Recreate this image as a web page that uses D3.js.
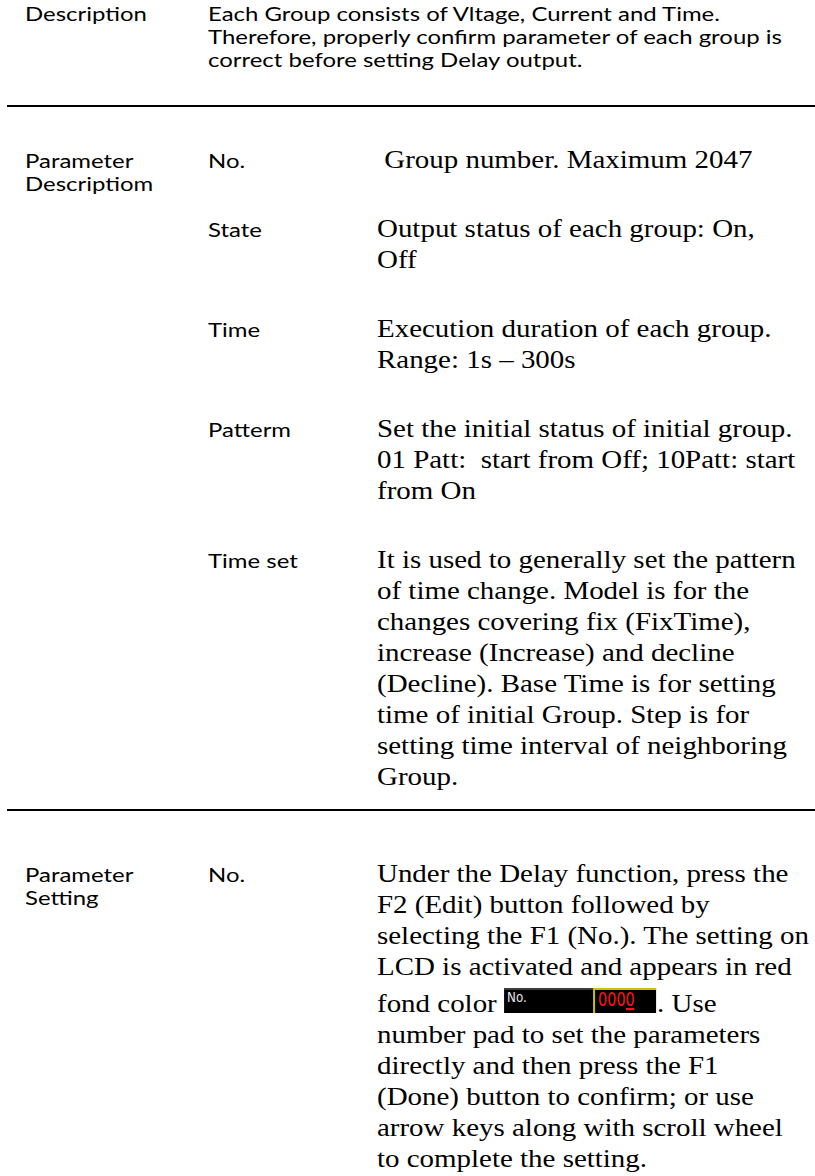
<!DOCTYPE html>
<html><head><meta charset="utf-8">
<script src="https://cdn.jsdelivr.net/npm/d3@7"></script>
<style>html,body{margin:0;padding:0;background:#fff;}svg{display:block;}</style>
</head><body>
<svg id="c" width="815" height="1176"></svg>
<script>
// ---------- content ----------
const descriptionLabel = ["Description"];
const descriptionLines = [
  "Each Group consists of Vltage, Current and Time.",
  "Therefore, properly confirm parameter of each group is",
  "correct before setting Delay output."
];
const paramDescLabel = ["Parameter", "Descriptiom"];
const paramNames = ["No.", "State", "Time", "Patterm", "Time set"];
const paramTexts = [
  [" Group number. Maximum 2047"],
  ["Output status of each group: On,", "Off"],
  ["Execution duration of each group.", "Range: 1s \u2013 300s"],
  ["Set the initial status of initial group.", "01 Patt:  start from Off; 10Patt: start", "from On"],
  ["It is used to generally set the pattern", "of time change. Model is for the",
   "changes covering fix (FixTime),", "increase (Increase) and decline",
   "(Decline). Base Time is for setting", "time of initial Group. Step is for",
   "setting time interval of neighboring", "Group."]
];
const settingLabel = ["Parameter", "Setting"];
const settingNames = ["No."];
const settingTexts = [[
  "Under the Delay function, press the", "F2 (Edit) button followed by",
  "selecting the F1 (No.). The setting on", "LCD is activated and appears in red",
  "fond color {LCD}. Use", "number pad to set the parameters",
  "directly and then press the F1", "(Done) button to confirm; or use",
  "arrow keys along with scroll wheel", "to complete the setting."
]];
const lcdLabel = "No.";
const lcdValue = "0000";

// ---------- layout ----------
const svg = d3.select("#c");
const SERIF = "'Liberation Serif','Times New Roman',serif";
const SANS = "Lato,'Open Sans',sans-serif";
const serifSize = 26, sansSize = 19;
const lineS = 31, rowGap = 69, labelS = 23, topS = 23;
const labelX = 25, nameX = 208, textX = 377, topX = 208;

function measure(str, family, size) {
  const t = svg.append("text").attr("font-family", family).attr("font-size", size)
    .style("white-space", "pre").text(str);
  const w = t.node().getComputedTextLength(); t.remove(); return w;
}
const serifSX = (796 - textX) / measure(paramTexts[4][0], SERIF, serifSize);
const sansSX = Math.min(1.26, (790 - topX) / measure(descriptionLines[1], SANS, sansSize));

function put(str, x, y, family, size, sx) {
  return svg.append("text")
    .attr("transform", `translate(${x},${y}) scale(${sx},1)`)
    .attr("font-family", family).attr("font-size", size)
    .attr("fill", "#000").style("white-space", "pre").text(str);
}

// rules
const xRule = d3.scaleLinear().domain([0, 1]).range([7, 815]);
[106, 810].forEach(y => {
  svg.append("line").attr("x1", xRule(0)).attr("x2", xRule(1)).attr("y1", y).attr("y2", y)
    .attr("stroke", "#000").attr("stroke-width", 2.2);
});

// top block
const yTop = d3.scaleLinear().domain([0, 1]).range([21, 21 + topS]);
descriptionLabel.forEach((t, i) => put(t, labelX, yTop(i), SANS, sansSize, sansSX));
descriptionLines.forEach((t, i) => put(t, topX, yTop(i), SANS, sansSize, sansSX));

// generic table section
function section(labels, names, texts, y0) {
  const yL = d3.scaleLinear().domain([0, 1]).range([y0, y0 + labelS]);
  labels.forEach((t, i) => put(t, labelX, yL(i), SANS, sansSize, sansSX));
  let y = y0;
  const yRows = [];
  texts.forEach((lines) => {
    yRows.push(y);
    y += (lines.length - 1) * lineS + rowGap;
  });
  names.forEach((n, r) => {
    put(n, nameX, yRows[r], SANS, sansSize, sansSX);
    const yl = d3.scaleLinear().domain([0, 1]).range([yRows[r], yRows[r] + lineS]);
    let extra = 0;
    texts[r].forEach((line, j) => {
      if (line.includes("{LCD}")) {
        extra = 6;
        const yb = yl(j) + extra;
        const parts = line.split("{LCD}");
        put(parts[0], textX, yb, SERIF, serifSize, serifSX);
        const bx = textX + measure(parts[0], SERIF, serifSize) * serifSX;
        const bw = drawLCD(bx, yb);
        put(parts[1], bx + bw + 1, yb, SERIF, serifSize, serifSX);
      } else {
        put(line, textX, yl(j) + extra, SERIF, serifSize, serifSX);
      }
    });
  });
}

function drawLCD(x, base) {
  const w = 152, h = 25, top = base - 24, split = 90;
  const g = svg.append("g");
  g.append("rect").attr("x", x).attr("y", top).attr("width", w).attr("height", h).attr("fill", "#000");
  g.append("rect").attr("x", x).attr("y", top).attr("width", split).attr("height", 2).attr("fill", "#3c3c3c");
  g.append("rect").attr("x", x + split).attr("y", top).attr("width", w - split).attr("height", 2).attr("fill", "#c9c400");
  g.append("rect").attr("x", x + split - 1).attr("y", top).attr("width", 2).attr("height", h).attr("fill", "#c9c400");
  g.append("text").attr("transform", `translate(${x + 3},${top + 14}) scale(0.85,1)`)
    .attr("font-family", "'DejaVu Sans',sans-serif")
    .attr("font-size", 14).attr("fill", "#e6e6e6").text(lcdLabel);
  const vt = g.append("text").attr("transform", `translate(${x + split + 4},${top + 18}) scale(0.72,1)`)
    .attr("font-family", "'DejaVu Sans',sans-serif").attr("font-size", 20).attr("fill", "#ff1414").text(lcdValue);
  const vw = vt.node().getComputedTextLength() * 0.72;
  g.append("rect").attr("x", x + split + 4 + vw * 0.76).attr("y", top + 20).attr("width", vw * 0.23).attr("height", 2.2).attr("fill", "#ff1414");
  return w;
}

section(paramDescLabel, paramNames, paramTexts, 168);
section(settingLabel, settingNames, settingTexts, 882);
</script>
</body></html>
